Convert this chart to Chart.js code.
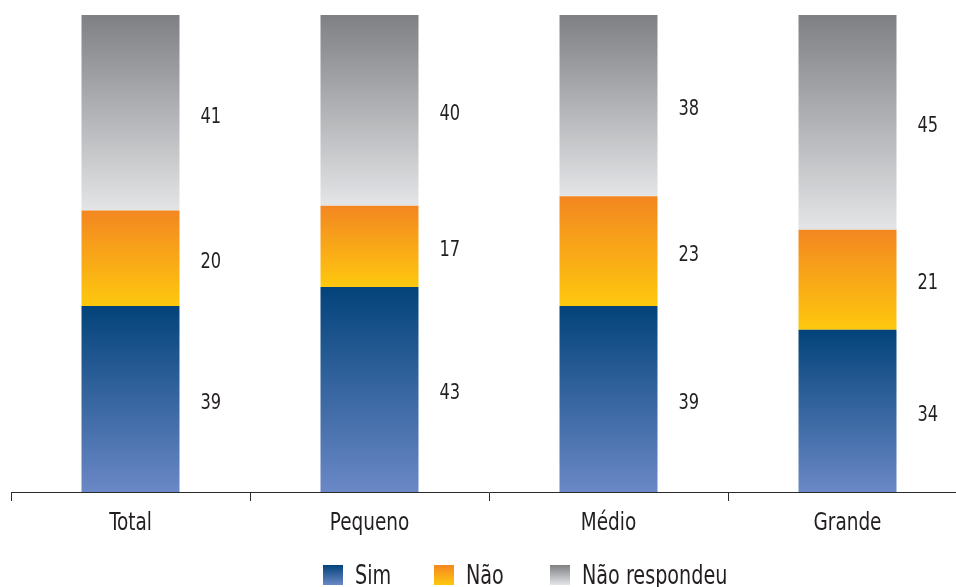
<!DOCTYPE html>
<html>
<head>
<meta charset="utf-8">
<script src="https://cdn.jsdelivr.net/npm/chart.js@4.4.1/dist/chart.umd.min.js"></script>
<style>
  html, body { margin: 0; padding: 0; background: #fff; overflow: hidden; }
  #wrap { width: 970px; height: 587px; }
</style>
</head>
<body>
<div id="wrap"><canvas id="chart"></canvas></div>
<script>
const categories = ['Total', 'Pequeno', 'Médio', 'Grande'];
const sim = [39, 43, 39, 34];
const nao = [20, 17, 23, 21];
const naoRespondeu = [41, 40, 38, 45];
const seriesNames = ['Sim', 'Não', 'Não respondeu'];

const FONT = "'DejaVu Sans Condensed', 'DejaVu Sans', sans-serif";
const SQUEEZE = 0.82; // the original uses a narrow face

// top colour, bottom colour for each series
const gradStops = [
  ['#03437a', '#6a88c5'],
  ['#f38721', '#fec80e'],
  ['#7f8084', '#e4e5e7'],
];

function segmentGradient(context) {
  const chart = context.chart;
  const { ctx, chartArea, scales } = chart;
  const di = context.datasetIndex;
  const stops = gradStops[di];
  if (!chartArea || context.type !== 'data') return stops[0];
  let base = 0;
  for (let k = 0; k < di; k++) base += chart.data.datasets[k].data[context.dataIndex];
  const top = base + chart.data.datasets[di].data[context.dataIndex];
  const y0 = scales.y.getPixelForValue(top);
  const y1 = scales.y.getPixelForValue(base);
  const g = ctx.createLinearGradient(0, y0, 0, y1);
  g.addColorStop(0, stops[0]);
  g.addColorStop(1, stops[1]);
  return g;
}

function narrowText(ctx, text, x, y, size, align) {
  ctx.save();
  ctx.font = size + 'px ' + FONT;
  ctx.fillStyle = '#231f20';
  ctx.textAlign = align;
  ctx.textBaseline = 'middle';
  ctx.translate(x, y);
  ctx.scale(SQUEEZE, 1);
  ctx.fillText(text, 0, 0);
  ctx.restore();
}

const textPlugin = {
  id: 'textPlugin',
  afterDraw(chart) {
    const ctx = chart.ctx;
    // value labels to the right of each segment
    chart.data.datasets.forEach((ds, i) => {
      chart.getDatasetMeta(i).data.forEach((bar, j) => {
        const y = (bar.y + bar.base) / 2 + 4;
        narrowText(ctx, String(ds.data[j]), bar.x + bar.width / 2 + 21, y, 22, 'left');
      });
    });
    // category labels
    const xs = chart.scales.x;
    categories.forEach((c, i) => {
      narrowText(ctx, c, xs.getPixelForValue(i), xs.top + 31, 25, 'center');
    });
    // legend
    const lx = [323, 434, 550];
    const top = 565, size = 20;
    seriesNames.forEach((name, i) => {
      const g = ctx.createLinearGradient(0, top, 0, top + size);
      g.addColorStop(0, gradStops[i][0]);
      g.addColorStop(1, gradStops[i][1]);
      ctx.fillStyle = g;
      ctx.fillRect(lx[i], top, size, size);
      narrowText(ctx, name, lx[i] + size + 12, top + size / 2 + 2, 26, 'left');
    });
  }
};

const ctx = document.getElementById('chart').getContext('2d');
new Chart(ctx, {
  type: 'bar',
  data: {
    labels: categories,
    datasets: [
      { label: seriesNames[0], data: sim, backgroundColor: segmentGradient },
      { label: seriesNames[1], data: nao, backgroundColor: segmentGradient },
      { label: seriesNames[2], data: naoRespondeu, backgroundColor: segmentGradient },
    ],
  },
  options: {
    responsive: true,
    maintainAspectRatio: false,
    animation: false,
    layout: { padding: { left: 11, right: 3, top: 15, bottom: 86 } },
    datasets: { bar: { barPercentage: 0.82, categoryPercentage: 0.5 } },
    plugins: {
      legend: { display: false },
      tooltip: { enabled: false },
    },
    scales: {
      x: {
        stacked: true,
        offset: true,
        border: { display: true, color: '#2b2b2b', width: 1 },
        grid: {
          offset: true,
          drawOnChartArea: false,
          drawTicks: true,
          tickLength: 9,
          color: '#2b2b2b',
        },
        ticks: { display: false },
      },
      y: {
        stacked: true,
        display: false,
        min: 0,
        max: 100,
      },
    },
  },
  plugins: [textPlugin],
});
</script>
</body>
</html>
